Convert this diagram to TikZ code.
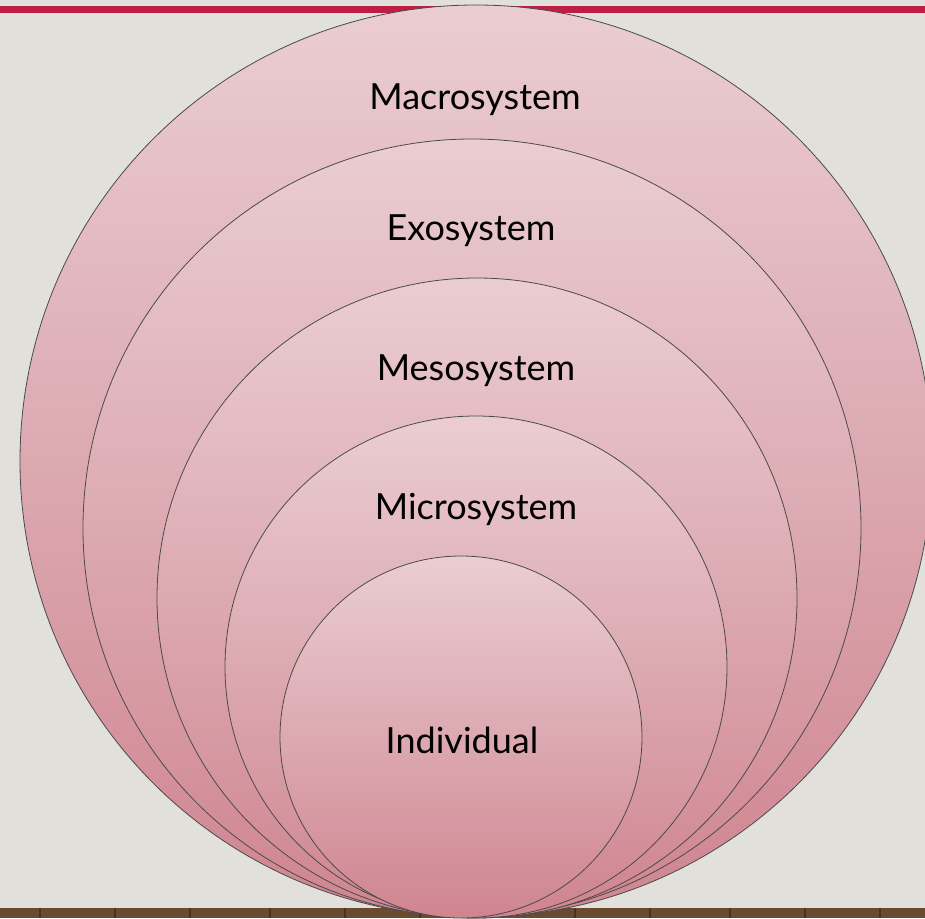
\documentclass[tikz,border=0pt]{standalone}
\usepackage{fontspec}
\setmainfont{Lato}
\definecolor{bgc}{HTML}{E2E0DB}
\definecolor{barc}{HTML}{BE1E44}
\definecolor{woodc}{HTML}{6B4B30}
\definecolor{woodd}{HTML}{4A3220}
\definecolor{pinktop}{HTML}{EACDD2}
\definecolor{pinkbot}{HTML}{CF8590}
\definecolor{edgec}{HTML}{4A4A4A}
\tikzset{
  ring/.style={circle, draw=edgec, line width=0.6pt, inner sep=0pt,
    top color=pinktop, bottom color=pinkbot},
  lbl/.style={font=\fontsize{27}{32}\selectfont, text=black, inner sep=0pt}
}
\begin{document}
\begin{tikzpicture}[x=0.75pt,y=-0.75pt]
\useasboundingbox (0,0) rectangle (925,918);
\clip (0,0) rectangle (925,918);
% background
\fill[bgc] (0,0) rectangle (925,918);
\fill[barc] (0,6) rectangle (925,13);
\fill[woodc] (0,908) rectangle (925,918);
\foreach \xx in {40,115,190,270,345,420,500,575,650,730,805,880}
  \draw[woodd, line width=0.8pt] (\xx,908) -- (\xx,918);
% circles
\node[ring, minimum size=684pt]   (macro) at (476,461) {};
\node[ring, minimum size=583.5pt] (exo)   at (472,528) {};
\node[ring, minimum size=480pt]   (meso)  at (477,598) {};
\node[ring, minimum size=376.5pt] (micro) at (476,667) {};
\node[ring, minimum size=271.5pt] (indiv) at (461,737) {};
% labels
\node[lbl] (tmacro) at (475,100) {Macrosystem};
\node[lbl] (texo)   at (471,231) {Exosystem};
\node[lbl] (tmeso)  at (476,371) {Mesosystem};
\node[lbl] (tmicro) at (476,509) {Microsystem};
\node[lbl] (tindiv) at (462,740) {Individual};
\end{tikzpicture}
\end{document}
